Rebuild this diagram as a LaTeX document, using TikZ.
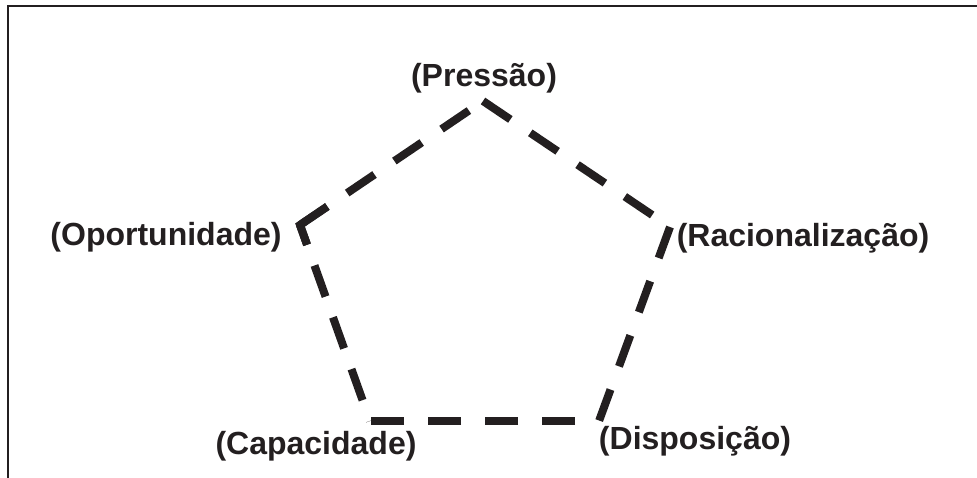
\documentclass[tikz,border=0pt]{standalone}
\usepackage{fontspec}
\setmainfont{Liberation Sans}
\usetikzlibrary{calc}
\definecolor{ink}{HTML}{231F20}
\begin{document}
\begin{tikzpicture}[x=1pt,y=-1pt,
  label/.style={font=\bfseries\fontsize{32}{32}\selectfont, text=ink, inner sep=0pt},
  edge/.style={draw=ink, line width=8pt, dash pattern=on 33pt off 24pt},
  solidedge/.style={draw=ink, line width=8pt, miter limit=4},
  frame/.style={draw=ink, line width=2.5pt}]
\useasboundingbox (0,0) rectangle (977,477);
% open frame: left and top edges
\coordinate (fb) at (8,478);
\coordinate (fc) at (8,6);
\coordinate (fr) at (978,6);
\draw[frame] (fb) -- (fc) -- (fr);
% pentagon corners
\coordinate (pL) at (300,225);
\coordinate (pT) at (483,101);
\coordinate (pR) at (670,227);
\coordinate (pBR) at (599,421);
\coordinate (pBL) at (370,421);
% dashed sides, each with its own phase
\draw[edge] (pL) -- (pT);
\draw[edge] (pT) -- (pR);
\draw[edge, dash pattern=on 33pt off 24.7pt] (pR) -- (pBR);
\draw[edge, dash phase=33pt] (pBR) -- (pBL);
\draw[edge, dash pattern=on 33pt off 22pt, dash phase=12pt] (pL) -- (pBL);
% solid corner piece at the left vertex
\draw[solidedge] ($(pL)!21pt!(pBL)$) -- (pL) -- ($(pL)!33pt!(pT)$);
% labels
\node[label] (pres) at (484,78) {(Pressão)};
\node[label] (opor) at (166,237) {(Oportunidade)};
\node[label] (raci) at (803,238) {(Racionalização)};
\node[label] (capa) at (316,446) {(Capacidade)};
\node[label] (disp) at (695,441) {(Disposição)};
\end{tikzpicture}
\end{document}
